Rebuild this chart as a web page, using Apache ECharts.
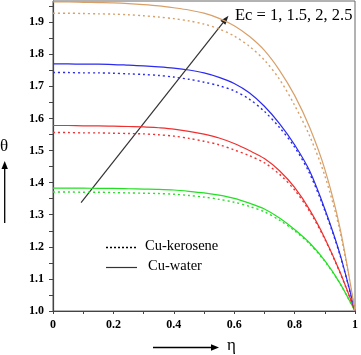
<!DOCTYPE html>
<html>
<head>
<meta charset="utf-8">
<script src="https://cdn.jsdelivr.net/npm/echarts@6/dist/echarts.min.js"></script>
<style>html,body{margin:0;padding:0;background:#fff}#c{width:361px;height:355px}</style>
</head>
<body>
<div id="c"></div>
<script>
// eta positions
var etas = [0, 0.05, 0.1, 0.15, 0.2, 0.25, 0.3, 0.35, 0.4, 0.45, 0.5, 0.55, 0.6, 0.65, 0.7, 0.75, 0.8, 0.85, 0.9, 0.95, 1.0];
// Cu-water (solid)
var waterEc1  = [1.383,1.383,1.383,1.382,1.382,1.381,1.380,1.379,1.377,1.373,1.368,1.361,1.351,1.336,1.318,1.290,1.254,1.212,1.157,1.087,1.0];
var waterEc15 = [1.578,1.578,1.577,1.577,1.576,1.575,1.574,1.571,1.567,1.560,1.551,1.539,1.522,1.500,1.475,1.437,1.385,1.315,1.227,1.122,1.0];
var waterEc2  = [1.770,1.770,1.769,1.769,1.768,1.766,1.764,1.761,1.757,1.751,1.742,1.728,1.709,1.680,1.638,1.584,1.518,1.436,1.318,1.178,1.0];
var waterEc25 = [1.963,1.963,1.962,1.961,1.960,1.958,1.955,1.951,1.945,1.938,1.928,1.912,1.889,1.856,1.812,1.750,1.672,1.572,1.442,1.260,1.0];
// Cu-kerosene (dotted)
var keroEc1   = [1.371,1.371,1.370,1.370,1.369,1.368,1.367,1.366,1.364,1.360,1.355,1.348,1.339,1.326,1.309,1.283,1.250,1.209,1.155,1.086,1.0];
var keroEc15  = [1.556,1.556,1.555,1.555,1.554,1.553,1.552,1.549,1.545,1.538,1.529,1.518,1.502,1.484,1.462,1.426,1.377,1.310,1.224,1.120,1.0];
var keroEc2   = [1.743,1.743,1.742,1.742,1.741,1.739,1.737,1.734,1.729,1.722,1.713,1.702,1.686,1.660,1.622,1.572,1.511,1.428,1.313,1.175,1.0];
var keroEc25  = [1.928,1.928,1.927,1.926,1.925,1.923,1.920,1.916,1.911,1.904,1.894,1.879,1.857,1.825,1.782,1.722,1.641,1.545,1.422,1.250,1.0];
// tick values / labels
var xTickVals  = [0, 0.1, 0.2, 0.3, 0.4, 0.5, 0.6, 0.7, 0.8, 0.9, 1.0];
var xLabelVals = [0, 0.2, 0.4, 0.6, 0.8, 1.0];
var yTickVals  = [1.0, 1.05, 1.1, 1.15, 1.2, 1.25, 1.3, 1.35, 1.4, 1.45, 1.5, 1.55, 1.6, 1.65, 1.7, 1.75, 1.8, 1.85, 1.9, 1.95];
var yLabelVals = [1.0, 1.1, 1.2, 1.3, 1.4, 1.5, 1.6, 1.7, 1.8, 1.9];
var legendNames = ['Cu-kerosene', 'Cu-water'];
var annotation = 'Ec = 1, 1.5, 2, 2.5';
var arrowFrom = [0.093, 1.338];
var arrowTo = [0.581, 1.920];

var colors = ['#22e022', '#f03030', '#2a2af0', '#d8a068'];
function pairs(v){ return etas.map(function(e,i){ return [e, v[i]]; }); }

var series = [];
var water = [waterEc1, waterEc15, waterEc2, waterEc25];
var kero = [keroEc1, keroEc15, keroEc2, keroEc25];
for (var i = 0; i < 4; i++) {
  series.push({type:'line', name:'kero'+i, data:pairs(kero[i]), showSymbol:false, smooth:0.3,
    lineStyle:{color:colors[i], width:1.4, type:[2,3]}, silent:true});
  series.push({type:'line', name:'water'+i, data:pairs(water[i]), showSymbol:false, smooth:0.3,
    lineStyle:{color:colors[i], width:1.2}, silent:true});
}

var serif = "'Liberation Serif', 'DejaVu Serif', serif";
var chart = echarts.init(document.getElementById('c'), null, {renderer:'canvas'});
var graphics = [
    {type:'text', left:235, top:7, style:{text:annotation, font:"16.5px "+serif, fill:'#000'}},
    {type:'line', shape:{x1:106, y1:247.5, x2:136, y2:247.5}, style:{stroke:'#000', lineWidth:1.4, lineDash:[2,2]}},
    {type:'text', left:145, top:239, style:{text:legendNames[0], font:"14.5px "+serif, fill:'#000'}},
    {type:'line', shape:{x1:106, y1:267.5, x2:137, y2:267.5}, style:{stroke:'#333', lineWidth:1.2}},
    {type:'text', left:148, top:259, style:{text:legendNames[1], font:"14.5px "+serif, fill:'#000'}},
    {type:'text', left:0, top:138, style:{text:'θ', font:"17px "+serif, fill:'#000'}},
    {type:'line', shape:{x1:4.7, y1:223, x2:4.7, y2:167}, style:{stroke:'#000', lineWidth:1.3}},
    {type:'polygon', shape:{points:[[4.7,161],[1.5,169],[7.9,169]]}, style:{fill:'#000'}},
    {type:'line', shape:{x1:153, y1:347.5, x2:213, y2:347.5}, style:{stroke:'#000', lineWidth:1.3}},
    {type:'polygon', shape:{points:[[219,347.5],[211,344.3],[211,350.7]]}, style:{fill:'#000'}},
    {type:'text', left:227, top:337, style:{text:'η', font:"17px "+serif, fill:'#000'}}
];
chart.setOption({
  animation:false,
  grid:{left:53, right:3, top:1, bottom:44, show:true, borderColor:'#666', borderWidth:1, backgroundColor:'transparent'},
  xAxis:{type:'value', min:0, max:1,
    axisLine:{lineStyle:{color:'#444', width:1.2}},
    axisTick:{show:true, length:3, inside:false, customValues:xTickVals, lineStyle:{color:'#444'}},
    axisLabel:{customValues:xLabelVals, margin:8, color:'#000', fontFamily:serif, fontWeight:'bold', fontSize:12,
      formatter:function(v){ return (v===0)?'0':(v===1)?'1':v.toFixed(1); }},
    splitLine:{show:false}},
  yAxis:{type:'value', min:1.0, max:1.966,
    axisLine:{show:true, lineStyle:{color:'#444', width:1.2}},
    axisTick:{show:true, length:4, inside:false, customValues:yTickVals, lineStyle:{color:'#444'}},
    axisLabel:{customValues:yLabelVals, margin:9, color:'#000', fontFamily:serif, fontWeight:'bold', fontSize:12,
      formatter:function(v){ return v.toFixed(1); }},
    splitLine:{show:false}},
  series:series,
  graphic:graphics
});
// annotation arrow positioned through the chart's own scales
var p1 = chart.convertToPixel({gridIndex:0}, arrowFrom);
var p2 = chart.convertToPixel({gridIndex:0}, arrowTo);
var dx = p2[0]-p1[0], dy = p2[1]-p1[1], L = Math.sqrt(dx*dx+dy*dy);
var ux = dx/L, uy = dy/L, hl = 9, hw = 3.2;
var bx = p2[0]-ux*hl, by = p2[1]-uy*hl;
graphics.push({type:'line', shape:{x1:p1[0], y1:p1[1], x2:bx, y2:by}, style:{stroke:'#333', lineWidth:1.2}});
graphics.push({type:'polygon', shape:{points:[[p2[0],p2[1]],[bx-uy*hw, by+ux*hw],[bx+uy*hw, by-ux*hw]]}, style:{fill:'#222'}});
chart.setOption({graphic:graphics}, {replaceMerge:['graphic']});
</script>
</body>
</html>
